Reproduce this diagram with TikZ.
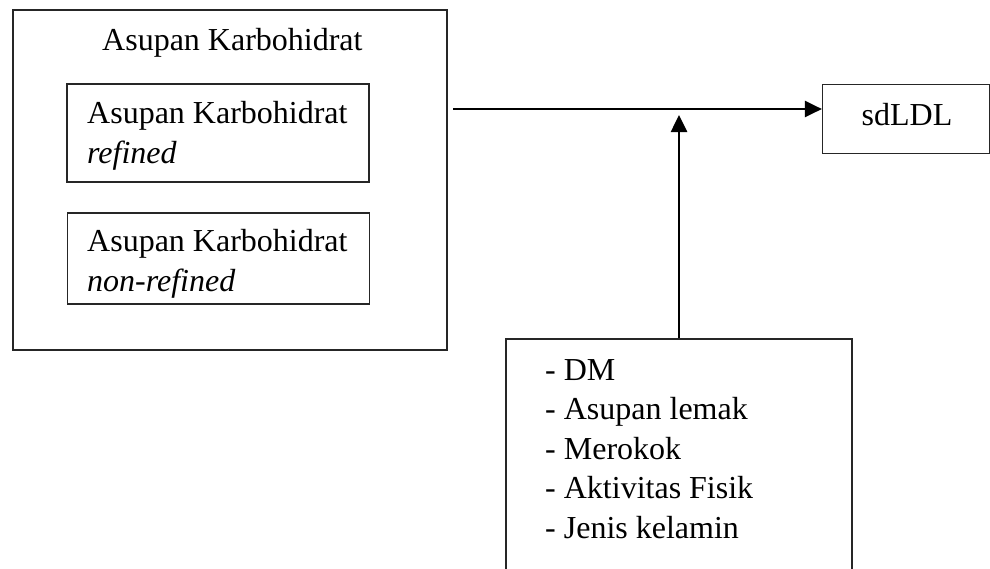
\documentclass[tikz,border=0pt]{standalone}
\usepackage{fontspec}
\setmainfont{Liberation Serif}
\usetikzlibrary{arrows.meta}
\begin{document}
\begin{tikzpicture}[x=1pt,y=-1pt,
  box/.style={draw=black!85, line width=1.2pt, inner sep=0pt},
  txt/.style={anchor=base west, inner sep=0pt, font=\fontsize{32}{40}\selectfont},
  conn/.style={line width=2.6pt, -{Triangle[length=17pt,width=16pt]}}]
\useasboundingbox (0,0) rectangle (990,568);
% boxes
\node[box, minimum width=434pt, minimum height=340pt] (outer) at (230,180) {};
\node[box, minimum width=302pt, minimum height=98pt] (refined) at (218,133) {};
\node[box, minimum width=302pt, minimum height=91pt] (nonrefined) at (218.5,258.5) {};
\node[box, minimum width=167pt, minimum height=69pt] (sdldl) at (906,118.8) {};
\node[box, minimum width=346pt, minimum height=281pt] (factors) at (679,479.5) {};
% texts
\node[txt] (title) at (102,50) {Asupan Karbohidrat};
\node[txt] (r1) at (87,123) {Asupan Karbohidrat};
\node[txt] (r2) at (87,163) {\textit{refined}};
\node[txt] (n1) at (87,251) {Asupan Karbohidrat};
\node[txt] (n2) at (87,291) {\textit{non-refined}};
\node[txt] (sdtxt) at (861.5,125) {sdLDL};
\node[txt] (f1) at (545,380) {- DM};
\node[txt] (f2) at (545,419.5) {- Asupan lemak};
\node[txt] (f3) at (545,459) {- Merokok};
\node[txt] (f4) at (545,498.5) {- Aktivitas Fisik};
\node[txt] (f5) at (545,538) {- Jenis kelamin};
% connectors
\coordinate (hstart) at (453,109);
\coordinate (vtip) at (679,115);
\draw[conn] (hstart) -- (sdldl.west |- hstart);
\draw[conn] (factors.north) -- (vtip);
\end{tikzpicture}
\end{document}
